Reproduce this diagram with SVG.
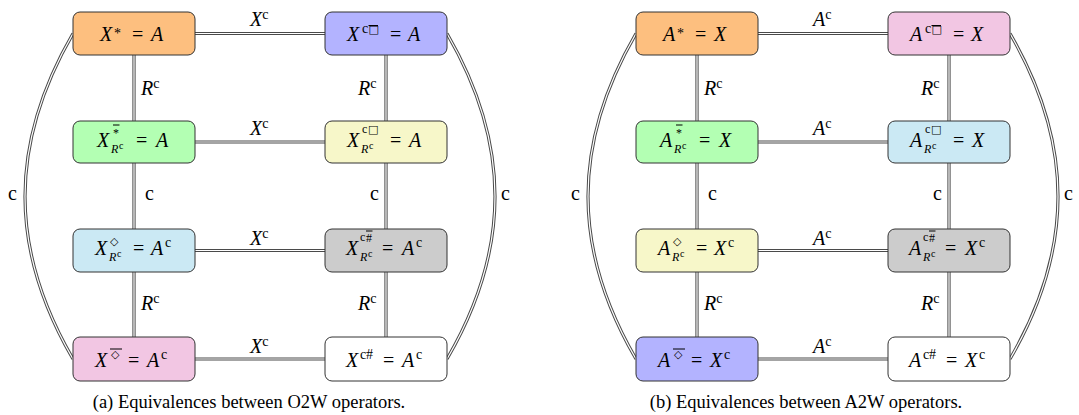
<svg xmlns="http://www.w3.org/2000/svg" width="1079" height="415" viewBox="0 0 1079 415" font-family="Liberation Serif, serif">
<style>
text{font-family:'Liberation Serif',serif}
.m{font-size:20px;fill:#000}
.i{font-style:italic}
.s{font-size:14px}
.s2{font-size:12px}
.ss{font-size:10px}
.g{font-family:'DejaVu Sans',sans-serif;font-size:11px}
.cap{font-size:18.5px;fill:#000}
.box{stroke:#333;stroke-width:1}
.o{stroke:#4a4a4a;stroke-width:3.2;fill:none}
.w{stroke:#fff;stroke-width:1.2;fill:none}
.ol{stroke:#000;stroke-width:1}
</style>
<defs>
<g id="conn">
<path d="M134,33.5H386M134,142H386M134,250.5H386M134,359H386M134,33.5V359M386,33.5V359M73,33.5C9,144 9,249 73,359M447,33.5C511,144 511,249 447,359"/>
</g>
</defs>
<g id="connectors">
<use href="#conn" class="o"/>
<use href="#conn" class="w"/>
<use href="#conn" class="o" transform="translate(563,0)"/>
<use href="#conn" class="w" transform="translate(563,0)"/>
</g>
<g id="left-labels" class="m">
<text x="250" y="26"><tspan class="i">X</tspan><tspan class="s" y="18.5">c</tspan></text>
<text x="250" y="135"><tspan class="i">X</tspan><tspan class="s" y="127.5">c</tspan></text>
<text x="250" y="245"><tspan class="i">X</tspan><tspan class="s" y="237.5">c</tspan></text>
<text x="250" y="353"><tspan class="i">X</tspan><tspan class="s" y="345.5">c</tspan></text>
<text x="141" y="95"><tspan class="i">R</tspan><tspan class="s" y="87.5">c</tspan></text>
<text x="145" y="200">c</text>
<text x="141" y="310"><tspan class="i">R</tspan><tspan class="s" y="302.5">c</tspan></text>
<text x="358" y="95"><tspan class="i">R</tspan><tspan class="s" y="87.5">c</tspan></text>
<text x="370" y="200">c</text>
<text x="358" y="310"><tspan class="i">R</tspan><tspan class="s" y="302.5">c</tspan></text>
<text x="8" y="200">c</text>
<text x="501" y="200">c</text>
</g>
<g id="right-labels" class="m">
<text x="813" y="26"><tspan class="i">A</tspan><tspan class="s" y="18.5">c</tspan></text>
<text x="813" y="135"><tspan class="i">A</tspan><tspan class="s" y="127.5">c</tspan></text>
<text x="813" y="245"><tspan class="i">A</tspan><tspan class="s" y="237.5">c</tspan></text>
<text x="813" y="353"><tspan class="i">A</tspan><tspan class="s" y="345.5">c</tspan></text>
<text x="704" y="95"><tspan class="i">R</tspan><tspan class="s" y="87.5">c</tspan></text>
<text x="708" y="200">c</text>
<text x="704" y="310"><tspan class="i">R</tspan><tspan class="s" y="302.5">c</tspan></text>
<text x="921" y="95"><tspan class="i">R</tspan><tspan class="s" y="87.5">c</tspan></text>
<text x="933" y="200">c</text>
<text x="921" y="310"><tspan class="i">R</tspan><tspan class="s" y="302.5">c</tspan></text>
<text x="571" y="200">c</text>
<text x="1064" y="200">c</text>
</g>

<!-- Left diagram nodes -->
<g id="L1">
<rect class="box" x="73" y="12" width="122" height="43" rx="7" fill="#FDBF7F"/>
<text class="m"><tspan class="i" x="100" y="41">X</tspan><tspan class="s" x="114" y="38">*</tspan><tspan x="132" y="41">=</tspan><tspan class="i" x="151" y="41">A</tspan></text>
</g>
<g id="L2">
<rect class="box" x="325" y="12" width="122" height="43" rx="7" fill="#B3B3FF"/>
<text class="m"><tspan class="i" x="347" y="41">X</tspan><tspan class="s" x="362" y="33">c</tspan><tspan class="g" x="368.5" y="33">□</tspan><tspan x="390" y="41">=</tspan><tspan class="i" x="408" y="41">A</tspan></text>
<line class="ol" x1="368.5" y1="25.5" x2="378" y2="25.5"/>
</g>
<g id="L3">
<rect class="box" x="73" y="121" width="122" height="42" rx="7" fill="#B3FFB3"/>
<text class="m"><tspan class="i" x="97" y="147">X</tspan><tspan class="s2" x="113" y="137">*</tspan><tspan class="i s2" x="111" y="153">R</tspan><tspan class="ss" x="119" y="149">c</tspan><tspan x="136" y="147">=</tspan><tspan class="i" x="156" y="147">A</tspan></text>
<line class="ol" x1="113" y1="125" x2="119.5" y2="125"/>
</g>
<g id="L4">
<rect class="box" x="325" y="121" width="122" height="42" rx="7" fill="#F7F7C9"/>
<text class="m"><tspan class="s2" x="362" y="133">c</tspan><tspan class="g" x="368" y="133">□</tspan><tspan class="i" x="347" y="147">X</tspan><tspan class="i s2" x="361" y="153">R</tspan><tspan class="ss" x="369" y="149">c</tspan><tspan x="390" y="147">=</tspan><tspan class="i" x="409" y="147">A</tspan></text>
</g>
<g id="L5">
<rect class="box" x="73" y="229" width="122" height="43" rx="7" fill="#CBE9F4"/>
<text class="m"><tspan class="i" x="95" y="255">X</tspan><tspan class="g" x="110" y="245">◇</tspan><tspan class="i s2" x="109" y="261">R</tspan><tspan class="ss" x="117" y="257">c</tspan><tspan x="133" y="255">=</tspan><tspan class="i" x="151" y="255">A</tspan><tspan class="s" x="165" y="247">c</tspan></text>
</g>
<g id="L6">
<rect class="box" x="325" y="229" width="122" height="43" rx="7" fill="#CCCCCC"/>
<text class="m"><tspan class="i" x="346" y="255">X</tspan><tspan class="s2" x="360" y="241">c</tspan><tspan class="s2" x="366" y="242">#</tspan><tspan class="i s2" x="360" y="261">R</tspan><tspan class="ss" x="368" y="257">c</tspan><tspan x="382" y="255">=</tspan><tspan class="i" x="402" y="255">A</tspan><tspan class="s" x="416" y="247">c</tspan></text>
<line class="ol" x1="366" y1="231" x2="372.5" y2="231"/>
</g>
<g id="L7">
<rect class="box" x="73" y="337" width="122" height="44" rx="7" fill="#F2C6E3"/>
<text class="m"><tspan class="i" x="95" y="367">X</tspan><tspan class="g" x="111" y="358">◇</tspan><tspan x="128" y="367">=</tspan><tspan class="i" x="147" y="367">A</tspan><tspan class="s" x="161" y="359">c</tspan></text>
<line class="ol" x1="110" y1="349" x2="122" y2="349"/>
</g>
<g id="L8">
<rect class="box" x="325" y="337" width="122" height="44" rx="7" fill="#FFFFFF"/>
<text class="m"><tspan class="i" x="346" y="367">X</tspan><tspan class="s" x="360" y="359">c</tspan><tspan class="s" x="366" y="359">#</tspan><tspan x="383" y="367">=</tspan><tspan class="i" x="402" y="367">A</tspan><tspan class="s" x="416" y="359">c</tspan></text>
</g>

<!-- Right diagram nodes -->
<g id="R1" transform="translate(563,0)">
<rect class="box" x="73" y="12" width="122" height="43" rx="7" fill="#FDBF7F"/>
<text class="m"><tspan class="i" x="100" y="41">A</tspan><tspan class="s" x="114" y="38">*</tspan><tspan x="132" y="41">=</tspan><tspan class="i" x="151" y="41">X</tspan></text>
</g>
<g id="R2" transform="translate(563,0)">
<rect class="box" x="325" y="12" width="122" height="43" rx="7" fill="#F2C6E3"/>
<text class="m"><tspan class="i" x="347" y="41">A</tspan><tspan class="s" x="362" y="33">c</tspan><tspan class="g" x="368.5" y="33">□</tspan><tspan x="390" y="41">=</tspan><tspan class="i" x="408" y="41">X</tspan></text>
<line class="ol" x1="368.5" y1="25.5" x2="378" y2="25.5"/>
</g>
<g id="R3" transform="translate(563,0)">
<rect class="box" x="73" y="121" width="122" height="42" rx="7" fill="#B3FFB3"/>
<text class="m"><tspan class="i" x="97" y="147">A</tspan><tspan class="s2" x="113" y="137">*</tspan><tspan class="i s2" x="111" y="153">R</tspan><tspan class="ss" x="119" y="149">c</tspan><tspan x="136" y="147">=</tspan><tspan class="i" x="156" y="147">X</tspan></text>
<line class="ol" x1="113" y1="125" x2="119.5" y2="125"/>
</g>
<g id="R4" transform="translate(563,0)">
<rect class="box" x="325" y="121" width="122" height="42" rx="7" fill="#CBE9F4"/>
<text class="m"><tspan class="s2" x="362" y="133">c</tspan><tspan class="g" x="368" y="133">□</tspan><tspan class="i" x="347" y="147">A</tspan><tspan class="i s2" x="361" y="153">R</tspan><tspan class="ss" x="369" y="149">c</tspan><tspan x="390" y="147">=</tspan><tspan class="i" x="409" y="147">X</tspan></text>
</g>
<g id="R5" transform="translate(563,0)">
<rect class="box" x="73" y="229" width="122" height="43" rx="7" fill="#F7F7C9"/>
<text class="m"><tspan class="i" x="95" y="255">A</tspan><tspan class="g" x="110" y="245">◇</tspan><tspan class="i s2" x="109" y="261">R</tspan><tspan class="ss" x="117" y="257">c</tspan><tspan x="133" y="255">=</tspan><tspan class="i" x="151" y="255">X</tspan><tspan class="s" x="165" y="247">c</tspan></text>
</g>
<g id="R6" transform="translate(563,0)">
<rect class="box" x="325" y="229" width="122" height="43" rx="7" fill="#CCCCCC"/>
<text class="m"><tspan class="i" x="346" y="255">A</tspan><tspan class="s2" x="360" y="241">c</tspan><tspan class="s2" x="366" y="242">#</tspan><tspan class="i s2" x="360" y="261">R</tspan><tspan class="ss" x="368" y="257">c</tspan><tspan x="382" y="255">=</tspan><tspan class="i" x="402" y="255">X</tspan><tspan class="s" x="416" y="247">c</tspan></text>
<line class="ol" x1="366" y1="231" x2="372.5" y2="231"/>
</g>
<g id="R7" transform="translate(563,0)">
<rect class="box" x="73" y="337" width="122" height="44" rx="7" fill="#B3B3FF"/>
<text class="m"><tspan class="i" x="95" y="367">A</tspan><tspan class="g" x="111" y="358">◇</tspan><tspan x="128" y="367">=</tspan><tspan class="i" x="147" y="367">X</tspan><tspan class="s" x="161" y="359">c</tspan></text>
<line class="ol" x1="110" y1="349" x2="122" y2="349"/>
</g>
<g id="R8" transform="translate(563,0)">
<rect class="box" x="325" y="337" width="122" height="44" rx="7" fill="#FFFFFF"/>
<text class="m"><tspan class="i" x="346" y="367">A</tspan><tspan class="s" x="360" y="359">c</tspan><tspan class="s" x="366" y="359">#</tspan><tspan x="383" y="367">=</tspan><tspan class="i" x="402" y="367">X</tspan><tspan class="s" x="416" y="359">c</tspan></text>
</g>

<g id="captions">
<text class="cap" x="249" y="408" text-anchor="middle">(a) Equivalences between O2W operators.</text>
<text class="cap" x="806" y="408" text-anchor="middle">(b) Equivalences between A2W operators.</text>
</g>
</svg>
